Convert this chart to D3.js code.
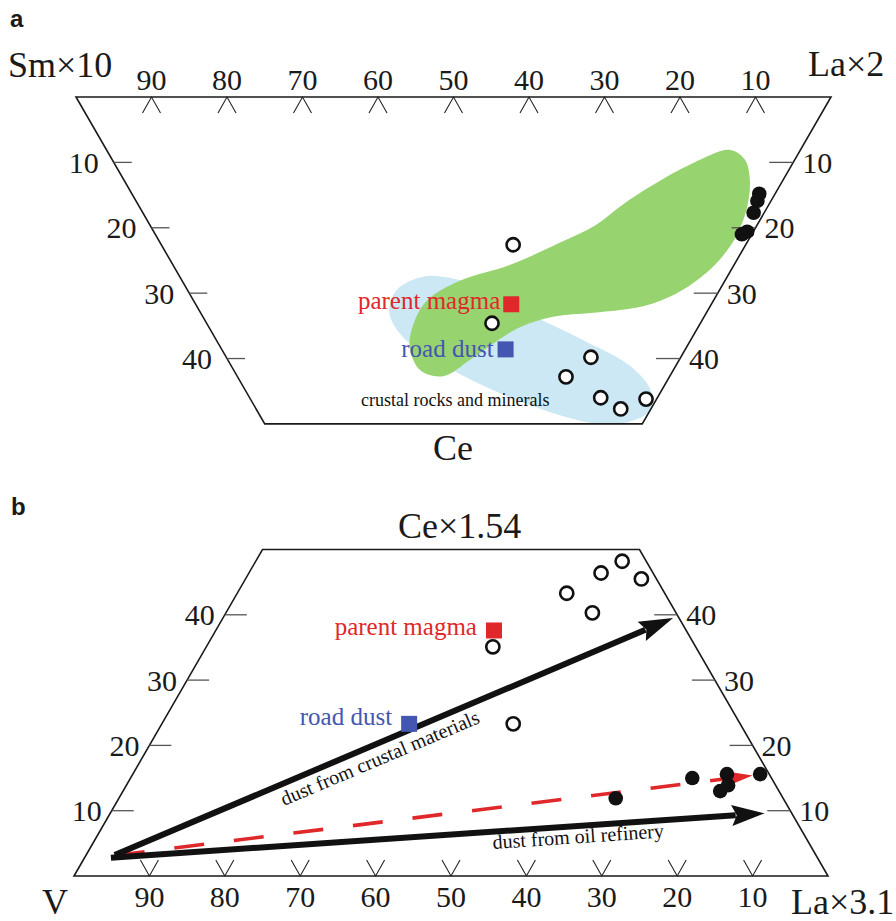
<!DOCTYPE html>
<html><head><meta charset="utf-8">
<script src="https://cdn.jsdelivr.net/npm/d3@7"></script>
<style>html,body{margin:0;padding:0;background:#fff}svg{display:block}</style>
</head><body>
<svg id="chart" width="896" height="921"></svg>
<script>
// ---------- DATA (ternary percentages, given as [La, Ce]; third component = 100 - La - Ce) ----------
const edgeTickLabels = [90, 80, 70, 60, 50, 40, 30, 20, 10];
const sideTickLabels = [10, 20, 30, 40];

// Panel a : Sm×10 – La×2 – Ce
const aOpenSamples   = [[46.6,22.6],[37.8,34.6],[48.3,39.8],[43.5,42.8],[46.5,46.0],[48.3,47.7],[52.4,46.2]];
const aFilledSamples = [[83.1,14.8],[82.3,15.9],[80.9,17.7],[78.6,20.6],[77.7,21.0]];
const aParentMagma   = [41.8,31.7];
const aRoadDust      = [37.6,38.6];
const aGreenField = [[82.6,8.1],[83.8,9.6],[82.9,12.7],[80.5,16.8],[77.0,21.1],[72.8,24.9],[68.8,27.7],
  [64.6,30.0],[59.1,32.0],[52.0,33.0],[46.4,33.6],[41.2,35.2],[37.3,37.2],[32.1,40.2],[27.3,42.7],
  [24.7,41.8],[25.1,38.2],[27.6,34.4],[31.1,31.0],[36.8,28.1],[44.6,25.7],[52.9,22.3],[59.0,19.6],
  [64.1,16.5],[69.6,13.5],[76.7,10.1]];
const aCrustalField = [[25.0,33.0],[27.5,29.7],[31.4,27.7],[34.4,27.4],[38.5,28.8],[43.2,33.0],[48.6,37.2],
  [52.8,41.1],[53.7,44.8],[52.1,47.9],[48.3,49.7],[44.4,50.0],[40.3,48.9],[33.5,45.3],[28.3,41.1],[25.0,36.9]];

// Panel b : V – La×3.1 – Ce×1.54
const bOpenSamples   = [[48.6,48.2],[46.7,46.4],[52.5,45.5],[43.7,43.3],[48.6,40.3],[38.0,35.1],[46.6,23.3]];
const bFilledSamples = [[83.2,15.6],[78.8,15.6],[79.8,13.9],[79.2,13.0],[74.5,15.0],[65.9,11.9]];
const bParentMagma   = [36.9,37.6];
const bRoadDust      = [32.8,23.3];
const bCrustalTrend  = [[3.8,3.2],[59.7,39.5]];
const bRefineryTrend = [[3.5,2.8],[86.8,9.6]];
const bSampleTrend   = [[3.6,3.1],[82.3,15.4]];

// ---------- STYLE ----------
const SERIF = "'Liberation Serif','Times New Roman',Times,serif";
const SANS  = "'Liberation Sans',Arial,Helvetica,sans-serif";
const RED = "#e0282b", BLUE = "#4357b2", GREEN = "#97d36f", LIGHTBLUE = "#cbe8f4";

const svg = d3.select("#chart");

function makeTernary(x0, y0, side, dir) {
  const sx = d3.scaleLinear().domain([0, 100]).range([x0, x0 + side]);
  const sy = d3.scaleLinear().domain([0, 100]).range([y0, y0 + dir * side * Math.sqrt(3) / 2]);
  return ([la, ce]) => [sx(la + ce / 2), sy(ce)];
}

function drawFrame(g, p, dir, o) {
  const frame = [[0,0],[100,0],[50,50],[0,50]].map(p);
  g.append("path").attr("d", "M" + frame.join("L") + "Z")
    .attr("fill", "none").attr("stroke", "#1a1a1a").attr("stroke-width", 1.6);
  edgeTickLabels.forEach(v => {
    const [x, y] = p([100 - v, 0]);
    g.append("path").attr("d", `M${x-9},${y+16*dir}L${x},${y}L${x+9},${y+16*dir}`)
      .attr("fill", "none").attr("stroke", "#222").attr("stroke-width", 1.1);
    g.append("text").attr("x", x).attr("y", o.edgeLabelY)
      .attr("text-anchor", "middle").attr("font-family", SERIF).attr("font-size", 30)
      .attr("fill", "#1a1a1a").text(v);
  });
  sideTickLabels.forEach(c => {
    const [xl, yl] = p([0, c]);
    g.append("line").attr("x1", xl).attr("y1", yl).attr("x2", xl + o.leftTick).attr("y2", yl)
      .attr("stroke", "#555").attr("stroke-width", 1.3);
    g.append("text").attr("x", xl - o.leftGap).attr("y", yl + 10.5)
      .attr("text-anchor", "end").attr("font-family", SERIF).attr("font-size", 30)
      .attr("fill", "#1a1a1a").text(c);
    const [xr, yr] = p([100 - c, c]);
    g.append("line").attr("x1", xr).attr("y1", yr).attr("x2", xr - o.rightTick).attr("y2", yr)
      .attr("stroke", "#555").attr("stroke-width", 1.3);
    g.append("text").attr("x", xr + 9).attr("y", yr + 10.5)
      .attr("text-anchor", "start").attr("font-family", SERIF).attr("font-size", 30)
      .attr("fill", "#1a1a1a").text(c);
  });
}

function drawPoints(g, p, open, filled) {
  g.selectAll(null).data(filled).enter().append("circle")
    .attr("cx", d => p(d)[0]).attr("cy", d => p(d)[1]).attr("r", 7.3).attr("fill", "#111");
  g.selectAll(null).data(open).enter().append("circle")
    .attr("cx", d => p(d)[0]).attr("cy", d => p(d)[1]).attr("r", 6.6)
    .attr("fill", "#fff").attr("stroke", "#111").attr("stroke-width", 2.6);
}

function drawRefLabel(g, p, d, color, text, dx, dy) {
  const [x, y] = p(d);
  g.append("rect").attr("x", x - 8).attr("y", y - 8).attr("width", 16).attr("height", 16).attr("fill", color);
  g.append("text").attr("x", x + dx).attr("y", y + dy).attr("text-anchor", "end")
    .attr("font-family", SERIF).attr("font-size", 25).attr("fill", color).text(text);
}

function drawArrow(g, p, seg, o) {
  const [x1, y1] = p(seg[0]), [x2, y2] = p(seg[1]);
  const a = Math.atan2(y2 - y1, x2 - x1), c = Math.cos(a), s = Math.sin(a);
  const bx = x2 - o.head * c, by = y2 - o.head * s;
  const line = g.append("line").attr("x1", x1).attr("y1", y1)
    .attr("x2", bx + 4 * c).attr("y2", by + 4 * s)
    .attr("stroke", o.color).attr("stroke-width", o.width).attr("stroke-linecap", "butt");
  if (o.dash) line.attr("stroke-dasharray", o.dash).attr("stroke-dashoffset", o.dashOffset || 0);
  const pts = [[x2, y2], [bx - o.half * s, by + o.half * c], [bx + o.notch * c, by + o.notch * s], [bx + o.half * s, by - o.half * c]];
  g.append("path").attr("d", "M" + pts.join("L") + "Z").attr("fill", o.color);
  return { x1, y1, x2, y2, angle: a * 180 / Math.PI };
}

// ---------- PANEL A ----------
const pa = makeTernary(76, 97, 755, 1);
const ga = svg.append("g");
ga.append("text").attr("x", 10).attr("y", 27).attr("font-family", SANS).attr("font-weight", "bold")
  .attr("font-size", 24).attr("fill", "#1a1a1a").text("a");

const blob = d3.line().curve(d3.curveCatmullRomClosed.alpha(0.5));
ga.append("path").attr("d", blob(aCrustalField.map(pa))).attr("fill", LIGHTBLUE);
ga.append("path").attr("d", blob(aGreenField.map(pa))).attr("fill", GREEN);

drawFrame(ga, pa, 1, { edgeLabelY: 90, leftTick: 18, leftGap: 15, rightTick: 24 });

ga.append("text").attr("x", 8).attr("y", 77).attr("font-family", SERIF).attr("font-size", 36).attr("fill", "#1a1a1a").text("Sm×10");
ga.append("text").attr("x", 808).attr("y", 76).attr("font-family", SERIF).attr("font-size", 36).attr("fill", "#1a1a1a").text("La×2");
ga.append("text").attr("x", 453).attr("y", 460).attr("text-anchor", "middle").attr("font-family", SERIF).attr("font-size", 36).attr("fill", "#1a1a1a").text("Ce");

ga.append("text").attr("x", 361).attr("y", 406).attr("font-family", SERIF).attr("font-size", 18)
  .attr("fill", "#111").text("crustal rocks and minerals");

drawRefLabel(ga, pa, aParentMagma, RED, "parent magma", -11, 5);
drawRefLabel(ga, pa, aRoadDust, BLUE, "road dust", -12, 7.5);
drawPoints(ga, pa, aOpenSamples, aFilledSamples);

// ---------- PANEL B ----------
const pb = makeTernary(74, 876, 754, -1);
const gb = svg.append("g");
gb.append("text").attr("x", 11).attr("y", 515).attr("font-family", SANS).attr("font-weight", "bold")
  .attr("font-size", 24).attr("fill", "#1a1a1a").text("b");

drawFrame(gb, pb, -1, { edgeLabelY: 907, leftTick: 22, leftGap: 10, rightTick: 23 });

gb.append("text").attr("x", 398).attr("y", 538).attr("font-family", SERIF).attr("font-size", 36).attr("fill", "#1a1a1a").text("Ce×1.54");
gb.append("text").attr("x", 42).attr("y", 914).attr("font-family", SERIF).attr("font-size", 36).attr("fill", "#1a1a1a").text("V");
gb.append("text").attr("x", 791).attr("y", 914).attr("font-family", SERIF).attr("font-size", 36).attr("fill", "#1a1a1a").text("La×3.1");

drawArrow(gb, pb, bSampleTrend, { color: RED, width: 3.6, head: 25, half: 7, notch: 3, dash: "30,30", dashOffset: 58 });
const crust = drawArrow(gb, pb, bCrustalTrend, { color: "#111", width: 6, head: 34, half: 10.5, notch: 5 });
const refin = drawArrow(gb, pb, bRefineryTrend, { color: "#111", width: 6, head: 33, half: 10.5, notch: 5 });

gb.append("text").attr("transform", `translate(284,806) rotate(${crust.angle})`)
  .attr("font-family", SERIF).attr("font-size", 20).attr("fill", "#111").text("dust from crustal materials");
gb.append("text").attr("transform", `translate(493,849) rotate(${refin.angle})`)
  .attr("font-family", SERIF).attr("font-size", 20).attr("fill", "#111").text("dust from oil refinery");

drawRefLabel(gb, pb, bParentMagma, RED, "parent magma", -17, 4.5);
drawRefLabel(gb, pb, bRoadDust, BLUE, "road dust", -17, 1);
drawPoints(gb, pb, bOpenSamples, bFilledSamples);
</script>
</body></html>
